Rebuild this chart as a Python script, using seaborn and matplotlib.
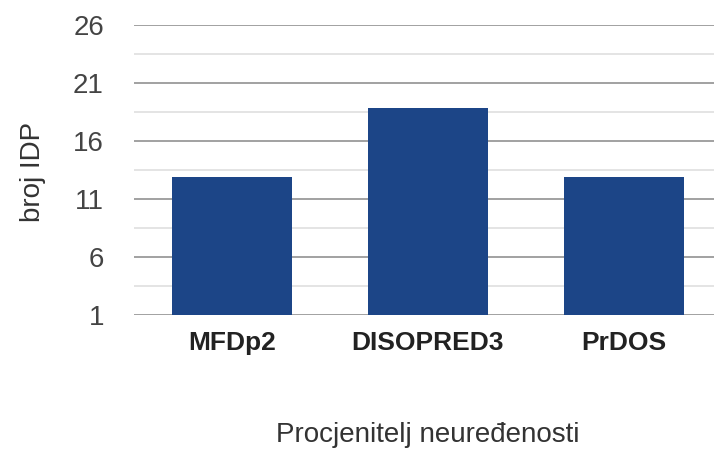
import matplotlib
matplotlib.use("Agg")
import matplotlib.pyplot as plt
import seaborn as sns
import pandas as pd

# Number of IDPs found by each disorder predictor
predictors = ["MFDp2", "DISOPRED3", "PrDOS"]
idp_counts = [12.9, 18.8, 12.9]
y_major_ticks = [1, 6, 11, 16, 21, 26]
y_minor_ticks = [3.5, 8.5, 13.5, 18.5, 23.5]

sns.set_theme(style="white")
plt.rcParams["font.family"] = ["Liberation Sans", "DejaVu Sans"]

df = pd.DataFrame({"predictor": predictors, "count": idp_counts})

fig = plt.figure(figsize=(7.14, 4.5), dpi=100)
ax = fig.add_axes([134 / 714, 1 - 314.7 / 450, 1 - 134 / 714, (314.7 - 25) / 450])

sns.barplot(data=df, x="predictor", y="count", color="#1c4587",
            saturation=1, width=0.613, linewidth=0, ax=ax)

ax.set_ylim(1, 26)
ax.set_xlim(-0.5, 2.46)
ax.set_yticks(y_major_ticks)
ax.set_yticks(y_minor_ticks, minor=True)
ax.set_axisbelow(True)
ax.grid(which="major", axis="y", color="#9a9a9a", linewidth=1.3)
ax.grid(which="minor", axis="y", color="#e2e2e2", linewidth=1.3)
ax.grid(axis="x", visible=False)
for s in ax.spines.values():
    s.set_visible(False)

ax.tick_params(axis="y", which="both", length=0, pad=21.6, labelsize=20,
               labelcolor="#444444")
ax.tick_params(axis="x", length=0, pad=12)
for lbl in ax.get_xticklabels():
    lbl.set_fontweight("bold")
    lbl.set_fontsize(19)
    lbl.set_color("#222222")

ax.set_xlabel("Procjenitelj neuređenosti", fontsize=20, color="#333333")
ax.xaxis.set_label_coords(1.5 / 2.96, (314.7 - 435) / 289.7)
ax.xaxis.label.set_va("center")
ax.set_ylabel("broj IDP", fontsize=20, color="#333333")
ax.yaxis.set_label_coords((33 - 134) / 580, (314.7 - 172) / 289.7)
ax.yaxis.label.set_va("center")

fig.savefig("out.png", dpi=100)
